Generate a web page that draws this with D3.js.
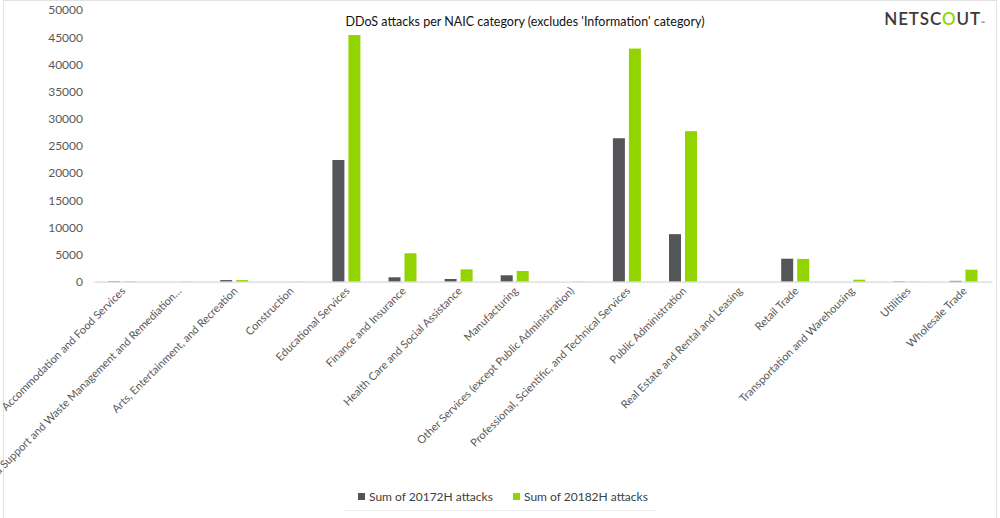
<!DOCTYPE html>
<html>
<head>
<meta charset="utf-8">
<script src="https://cdn.jsdelivr.net/npm/d3@7"></script>
<style>
  html, body { margin: 0; padding: 0; background: #fff; }
  svg { display: block; }
  text { font-family: Lato, "Open Sans", sans-serif; }
</style>
</head>
<body>
<svg id="chart" width="1000" height="518"></svg>
<script>
const categories = [
  "Accommodation and Food Services",
  "Administrative and Support and Waste Management and Remediation…",
  "Arts, Entertainment, and Recreation",
  "Construction",
  "Educational Services",
  "Finance and Insurance",
  "Health Care and Social Assistance",
  "Manufacturing",
  "Other Services (except Public Administration)",
  "Professional, Scientific, and Technical Services",
  "Public Administration",
  "Real Estate and Rental and Leasing",
  "Retail Trade",
  "Transportation and Warehousing",
  "Utilities",
  "Wholesale Trade"
];
const seriesNames = ["Sum of 20172H attacks", "Sum of 20182H attacks"];
const attacks2017 = [100, 0, 300, 0, 22400, 810, 500, 1180, 0, 26400, 8750, 0, 4230, 0, 80, 150];
const attacks2018 = [90, 60, 300, 40, 45400, 5230, 2270, 1970, 60, 42900, 27700, 0, 4190, 370, 60, 2210];
const yTicks = [0, 5000, 10000, 15000, 20000, 25000, 30000, 35000, 40000, 45000, 50000];
const colors = ["#545558", "#92d400"];
const title = "DDoS attacks per NAIC category (excludes 'Information' category)";

const svg = d3.select("#chart");

// border
svg.append("rect").attr("x", 3.5).attr("y", 0.5).attr("width", 993).attr("height", 520)
  .attr("fill", "none").attr("stroke", "#e3e3e3");

const x0 = d3.scaleBand().domain(categories).range([94, 991.6]).paddingInner(0).paddingOuter(0);
const x1 = d3.scaleBand().domain(seriesNames).range([14, 42]).paddingInner(0.25).paddingOuter(0);
const y = d3.scaleLinear().domain([0, 50000]).range([281.7, 10]);

// y axis labels
const yAxis = d3.axisLeft(y).tickValues(yTicks).tickSize(0).tickPadding(0).tickFormat(d3.format("d"));
const yg = svg.append("g").attr("transform", "translate(83,0)").call(yAxis);
yg.select(".domain").remove();
yg.selectAll("text").attr("fill", "#595959").style("font-size", "12px").style("font-family", "Lato, sans-serif");

// bars
const data = categories.map((c, i) => ({ cat: c, vals: [attacks2017[i], attacks2018[i]] }));
const groups = svg.append("g").selectAll("g").data(data).join("g")
  .attr("transform", d => `translate(${x0(d.cat)},0)`);
groups.selectAll("rect").data(d => d.vals.map((v, j) => ({ key: seriesNames[j], v, j })))
  .join("rect")
  .attr("x", d => x1(d.key))
  .attr("width", x1.bandwidth())
  .attr("y", d => y(d.v))
  .attr("height", d => Math.max(0, y(0) - y(d.v)))
  .attr("fill", d => colors[d.j]);

// x axis
const xAxis = d3.axisBottom(x0).tickSize(0).tickPadding(0);
const xg = svg.append("g").attr("transform", `translate(0,${y(0)})`).call(xAxis);
xg.select(".domain").attr("stroke", "#d9d9d9").attr("stroke-width", 1.2);
xg.selectAll(".tick text")
  .attr("fill", "#595959")
  .style("font-size", "11px")
  .style("font-family", "Lato, sans-serif")
  .attr("text-anchor", "end")
  .attr("dy", "0")
  .attr("transform", "translate(4,10) rotate(-45)");

// title
svg.append("text").attr("x", 525).attr("y", 26).attr("text-anchor", "middle")
  .attr("fill", "#111").style("font-size", "12.5px").text(title);

// logo
const logo = svg.append("text").attr("x", 935).attr("y", 25).attr("text-anchor", "middle")
  .attr("fill", "#3c3c3e").style("font-size", "17px").style("font-weight", "600")
  .style("letter-spacing", "0.9px");
logo.append("tspan").text("NETSC");
logo.append("tspan").attr("fill", "#92d400").text("O");
logo.append("tspan").text("UT");
logo.append("tspan").style("font-size", "5px").text("™");

// legend
const legend = svg.append("g");
const legendX = [358, 513];
seriesNames.forEach((s, i) => {
  legend.append("rect").attr("x", legendX[i]).attr("y", 493).attr("width", 7).attr("height", 7).attr("fill", colors[i]);
  legend.append("text").attr("x", legendX[i] + 11).attr("y", 501).attr("fill", "#404040")
    .style("font-size", "12px").text(s);
});
svg.append("line").attr("x1", 345).attr("x2", 655).attr("y1", 510.5).attr("y2", 510.5)
  .attr("stroke", "#ececec");
</script>
</body>
</html>
